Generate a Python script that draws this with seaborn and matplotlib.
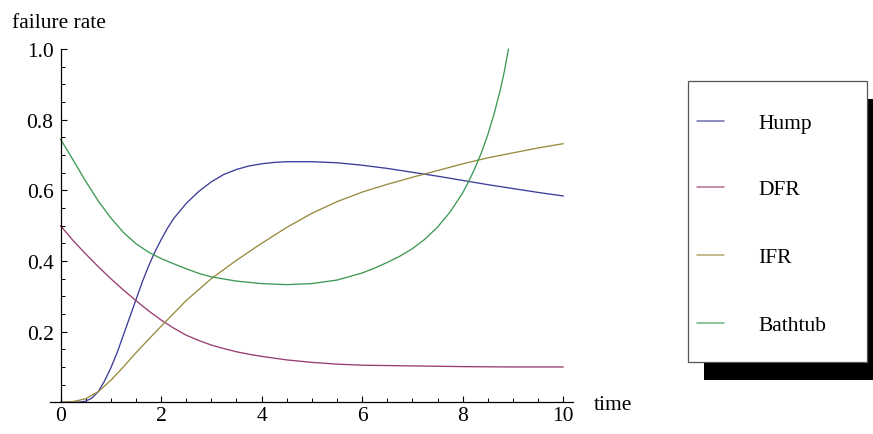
import numpy as np
import pandas as pd
import matplotlib
matplotlib.use("Agg")
import matplotlib.pyplot as plt
from matplotlib.lines import Line2D
from matplotlib.patches import Rectangle
from matplotlib.ticker import MultipleLocator, FixedLocator
import seaborn as sns

# ---- data ----
series_names = ["Hump", "DFR", "IFR", "Bathtub"]
series_colors = ["#3D3D99", "#993D71", "#998B3D", "#3D9954"]

hump_t = [0, 0.25, 0.375, 0.5, 0.625, 0.75, 0.875, 1.0, 1.125, 1.25, 1.375,
          1.5, 1.625, 1.75, 1.875, 2.0, 2.125, 2.25, 2.5, 2.75, 3.0, 3.25,
          3.5, 3.75, 4.0, 4.25, 4.5, 5.0, 5.5, 6.0, 6.5, 7.0, 7.5, 8.0, 8.5,
          9.0, 9.5, 10.0]
hump_h = [0.0, 0.0, 0.0005, 0.003, 0.012, 0.03, 0.06, 0.097, 0.14, 0.19,
          0.24, 0.29, 0.34, 0.385, 0.425, 0.46, 0.492, 0.52, 0.563, 0.597,
          0.624, 0.645, 0.659, 0.669, 0.675, 0.679, 0.681, 0.681, 0.678,
          0.671, 0.662, 0.651, 0.64, 0.628, 0.616, 0.605, 0.594, 0.584]

dfr_t = [0, 0.25, 0.5, 0.75, 1.0, 1.25, 1.5, 1.75, 2.0, 2.25, 2.5, 2.75, 3.0,
         3.25, 3.5, 3.75, 4.0, 4.5, 5.0, 5.5, 6.0, 6.5, 7.0, 8.0, 9.0, 10.0]
dfr_h = [0.5, 0.458, 0.42, 0.384, 0.35, 0.318, 0.288, 0.259, 0.233, 0.21,
         0.19, 0.175, 0.162, 0.152, 0.143, 0.136, 0.13, 0.12, 0.113, 0.108,
         0.105, 0.104, 0.103, 0.101, 0.1, 0.1]

ifr_t = [0, 0.25, 0.5, 0.75, 1.0, 1.25, 1.5, 1.75, 2.0, 2.5, 3.0, 3.5, 4.0,
         4.5, 5.0, 5.5, 6.0, 6.5, 7.0, 7.5, 8.0, 8.5, 9.0, 9.5, 10.0]
ifr_h = [0.0, 0.002, 0.01, 0.03, 0.062, 0.1, 0.14, 0.178, 0.215, 0.288,
         0.35, 0.402, 0.45, 0.495, 0.535, 0.568, 0.595, 0.617, 0.637, 0.656,
         0.675, 0.692, 0.706, 0.72, 0.732]

bath_t = [0, 0.25, 0.5, 0.75, 1.0, 1.25, 1.5, 1.75, 2.0, 2.25, 2.5, 2.75,
          3.0, 3.5, 4.0, 4.5, 5.0, 5.5, 6.0, 6.25, 6.5, 6.75, 7.0, 7.25, 7.5,
          7.75, 8.0, 8.125, 8.25, 8.375, 8.5, 8.625, 8.75, 8.83, 8.91]
bath_h = [0.745, 0.686, 0.626, 0.57, 0.522, 0.481, 0.449, 0.425, 0.407,
          0.392, 0.378, 0.365, 0.355, 0.343, 0.336, 0.333, 0.336, 0.346,
          0.366, 0.38, 0.396, 0.4135, 0.435, 0.462, 0.496, 0.539, 0.593,
          0.627, 0.665, 0.708, 0.758, 0.817, 0.886, 0.938, 1.0]

x_ticks = [0, 2, 4, 6, 8, 10]
y_ticks = [0.2, 0.4, 0.6, 0.8, 1.0]

frames = []
for name, t, h in [("Hump", hump_t, hump_h), ("DFR", dfr_t, dfr_h),
                   ("IFR", ifr_t, ifr_h), ("Bathtub", bath_t, bath_h)]:
    frames.append(pd.DataFrame({"time": t, "rate": h, "series": name}))
df = pd.concat(frames, ignore_index=True)

# ---- style ----
sns.set_theme(style="white")
plt.rcParams["font.family"] = ["Liberation Serif", "DejaVu Serif"]
plt.rcParams["lines.solid_joinstyle"] = "round"

W, H = 873, 435
fig = plt.figure(figsize=(W / 100, H / 100), dpi=100)
fig.patch.set_facecolor("white")

# axes placement (pixels)
x0_px, x10_px = 60.5, 563.3
ppu_x = (x10_px - x0_px) / 10.0
xmin, xmax = -0.2, 10.2
left_px = x0_px + xmin * ppu_x
right_px = x0_px + xmax * ppu_x
y0_px, y1_px = 403.3, 50.0
ax = fig.add_axes([left_px / W, (H - y0_px) / H,
                   (right_px - left_px) / W, (y0_px - y1_px) / H])
ax.set_facecolor("none")

palette = dict(zip(series_names, series_colors))
sns.lineplot(data=df, x="time", y="rate", hue="series", palette=palette,
             hue_order=series_names, sort=False, estimator=None,
             legend=False, ax=ax, linewidth=0.95)
for ln in ax.lines:
    ln.set_clip_on(False)
    ln.set_solid_joinstyle("round")

ax.set_xlim(xmin, xmax)
ax.set_ylim(0, 1.0)
ax.set_xlabel("")
ax.set_ylabel("")

for s in ["top", "right"]:
    ax.spines[s].set_visible(False)
ax.spines["left"].set_position(("data", 0))
ax.spines["bottom"].set_position(("data", 0))
ax.spines["left"].set_bounds(0, 1.0)
for s in ["left", "bottom"]:
    ax.spines[s].set_color("black")
    ax.spines[s].set_linewidth(0.9)

ax.xaxis.set_major_locator(FixedLocator(x_ticks))
ax.xaxis.set_minor_locator(MultipleLocator(0.5))
ax.yaxis.set_major_locator(FixedLocator(y_ticks))
ax.yaxis.set_minor_locator(MultipleLocator(0.05))
ax.set_xticklabels([str(v) for v in x_ticks])
ax.set_yticklabels([f"{v:.1f}" for v in y_ticks])
ax.tick_params(axis="both", which="major", direction="in", length=4.5,
               width=0.8, color="black", labelsize=15.5, labelcolor="black")
ax.tick_params(axis="both", which="minor", direction="in", length=2.6,
               width=0.7, color="black")
ax.tick_params(axis="x", which="major", pad=3)
ax.tick_params(axis="y", which="major", pad=5)
ax.tick_params(axis="both", which="both", bottom=True, left=True)
ax.grid(False)

# axis labels
fig.text(12 / W, 1 - 28 / H, "failure rate", fontsize=15.5, ha="left",
         va="baseline", color="black")
fig.text(594 / W, 1 - 410 / H, "time", fontsize=15.5, ha="left",
         va="baseline", color="black")

# ---- legend with drop shadow ----
bx0, by0, bx1, by1 = 688, 82, 867, 363
sh = 16, 18
fig.add_artist(Rectangle(((bx0 + sh[0]) / W, 1 - (by1 + sh[1]) / H),
                         (bx1 - bx0) / W, (by1 - by0) / H,
                         transform=fig.transFigure, facecolor="black",
                         edgecolor="none", zorder=5))
fig.add_artist(Rectangle((bx0 / W, 1 - by1 / H), (bx1 - bx0) / W,
                         (by1 - by0) / H, transform=fig.transFigure,
                         facecolor="white", edgecolor="#555555",
                         linewidth=0.9, zorder=6))
entry_y = [122, 188, 256, 324]
for name, col, ey in zip(series_names, series_colors, entry_y):
    fig.add_artist(Line2D([697 / W, 724 / W], [1 - ey / H, 1 - ey / H],
                          transform=fig.transFigure, color=col,
                          linewidth=1.1, alpha=0.75, zorder=7))
    fig.text(758 / W, 1 - ey / H, name, fontsize=15.5, ha="left",
             va="center_baseline", color="black", zorder=7)

fig.savefig("out.png", dpi=100, facecolor="white")
